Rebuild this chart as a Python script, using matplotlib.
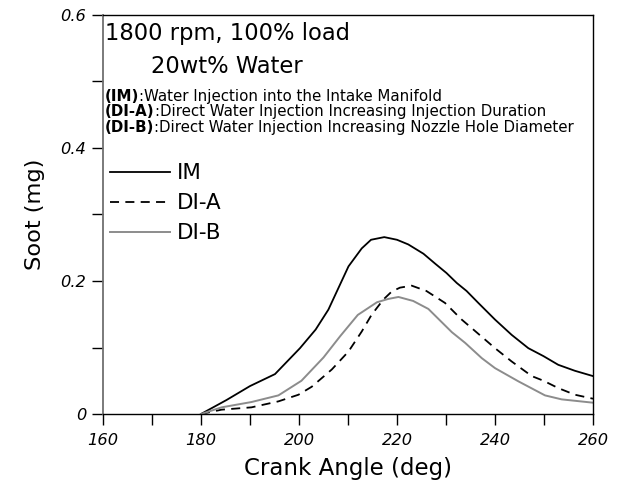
import matplotlib
matplotlib.use("Agg")
import matplotlib.pyplot as plt
from matplotlib.ticker import MultipleLocator

plt.rcParams['font.family'] = ['DejaVu Sans']

# Data
im_x = [180, 185.2, 190, 195.1, 200.2, 203.4, 206, 210.1, 212.8, 214.7, 217.4, 220.0,
        222.3, 225.4, 227.8, 230.1, 232.2, 234.2, 236.6, 240, 243.4, 246.8, 249.9,
        252.9, 256.3, 260]
im_y = [0, 0.021, 0.042, 0.060, 0.099, 0.127, 0.157, 0.222, 0.249, 0.262, 0.266, 0.262,
        0.255, 0.241, 0.226, 0.212, 0.197, 0.185, 0.167, 0.142, 0.119, 0.099, 0.087,
        0.074, 0.065, 0.057]

dia_x = [180, 184.2, 190.3, 195.8, 199.9, 202.6, 206.7, 210.1, 212.8, 214.8, 217.2, 218.9,
         220.6, 223, 226, 229.8, 233.2, 235.9, 240, 243.4, 247.5, 249.9, 252.9, 256.3, 260]
dia_y = [0, 0.0065, 0.010, 0.019, 0.029, 0.041, 0.067, 0.094, 0.124, 0.149, 0.172, 0.184,
         0.190, 0.193, 0.185, 0.167, 0.142, 0.125, 0.099, 0.079, 0.057, 0.050, 0.039,
         0.029, 0.023]

dib_x = [180, 184.2, 190.3, 195.8, 200.5, 205, 208.4, 212, 215.9, 218.2, 220.3, 223.3,
         226.4, 231.2, 233.9, 237.3, 240, 244.8, 250.2, 253.6, 260]
dib_y = [0, 0.010, 0.018, 0.028, 0.050, 0.085, 0.117, 0.149, 0.168, 0.173, 0.176, 0.170,
         0.158, 0.123, 0.107, 0.084, 0.069, 0.049, 0.028, 0.022, 0.017]

x_ticks = [160, 180, 200, 220, 240, 260]
y_ticks = [0, 0.2, 0.4, 0.6]
y_tick_labels = ['0', '0.2', '0.4', '0.6']
series_labels = ['IM', 'DI-A', 'DI-B']

fig = plt.figure(figsize=(6.22, 4.86), dpi=100)
ax = fig.add_axes([103/622, 1-414/486, (593-103)/622, (414-15)/486])

ax.plot(im_x, im_y, color='black', lw=1.3, label=series_labels[0])
ax.plot(dia_x, dia_y, color='black', lw=1.3, ls=(0, (5, 3.5)), label=series_labels[1])
ax.plot(dib_x, dib_y, color='#8c8c8c', lw=1.4, label=series_labels[2])

ax.set_xlim(160, 260)
ax.set_ylim(0, 0.6)
ax.set_xticks(x_ticks)
ax.set_xticklabels([str(v) for v in x_ticks], fontstyle='italic', fontsize=11.7)
ax.set_yticks(y_ticks)
ax.set_yticklabels(y_tick_labels, fontstyle='italic', fontsize=11.7)
ax.xaxis.set_minor_locator(MultipleLocator(10))
ax.yaxis.set_minor_locator(MultipleLocator(0.1))
ax.tick_params(which='both', direction='out', length=8, width=1, colors='black', pad=4)
ax.tick_params(axis='x', which='major', pad=6)

for s in ['top', 'right', 'bottom']:
    ax.spines[s].set_color('black')
    ax.spines[s].set_linewidth(1.0)
ax.spines['left'].set_color('#707070')
ax.spines['left'].set_linewidth(1.3)

ax.set_xlabel('Crank Angle (deg)', fontsize=16.5, labelpad=6)
ax.set_ylabel('Soot (mg)', fontsize=16.2, labelpad=11)

ax.text(0.004, 0.937, '1800 rpm, 100% load', transform=ax.transAxes, fontsize=16.3,
        va='baseline', ha='left')
ax.text(0.098, 0.855, '20wt% Water', transform=ax.transAxes, fontsize=16.3,
        va='baseline', ha='left')

notes = [('(IM)', ':Water Injection into the Intake Manifold'),
         ('(DI-A)', ':Direct Water Injection Increasing Injection Duration'),
         ('(DI-B)', ':Direct Water Injection Increasing Nozzle Hole Diameter')]
note_y = [0.785, 0.747, 0.708]
fig.canvas.draw()
r = fig.canvas.get_renderer()
for (b, t), yy in zip(notes, note_y):
    tb = ax.text(0.004, yy, b, transform=ax.transAxes, fontsize=10.8, fontweight='bold',
                 va='baseline', ha='left')
    bb = tb.get_window_extent(renderer=r)
    xa = ax.transAxes.inverted().transform((bb.x1, bb.y0))[0]
    ax.text(xa, yy, t, transform=ax.transAxes, fontsize=10.8, va='baseline', ha='left')

leg = ax.legend(loc='upper left', bbox_to_anchor=(0.0143, 0.628), frameon=False,
                fontsize=15.4, handlelength=2.8, handletextpad=0.33, labelspacing=0.46,
                borderaxespad=0, borderpad=0)

fig.savefig('out.png', dpi=100)
